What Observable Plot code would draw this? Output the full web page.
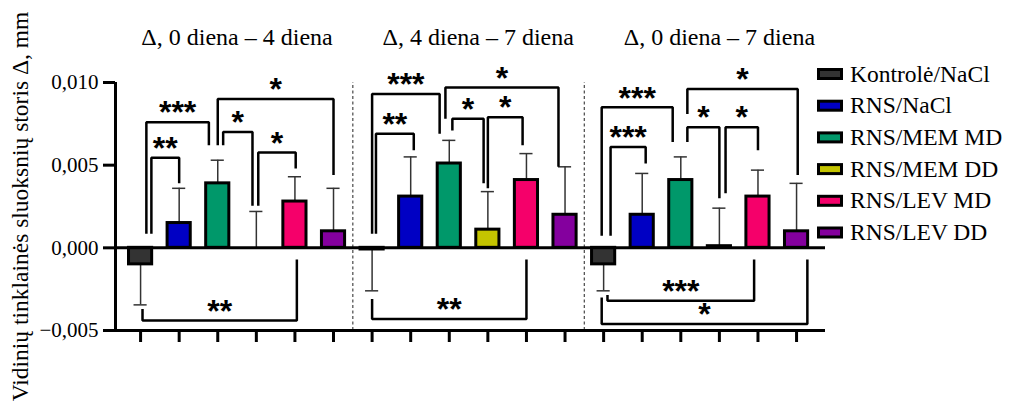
<!DOCTYPE html>
<html>
<head>
<meta charset="utf-8">
<script src="https://cdn.jsdelivr.net/npm/d3@7"></script>
<script src="https://cdn.jsdelivr.net/npm/@observablehq/plot@0.6"></script>
<style>
  body { margin: 0; background: #fff; }
  #chart { position: relative; width: 1012px; height: 406px; }
</style>
</head>
<body>
<div id="chart"></div>
<script>
// Groups, colours and observation periods
const groups = ["Kontrolė/NaCl", "RNS/NaCl", "RNS/MEM MD", "RNS/MEM DD", "RNS/LEV MD", "RNS/LEV DD"];
const groupColors = ["#333333", "#0000c4", "#00986a", "#c4c400", "#f5006a", "#84009e"];
const periods = ["Δ, 0 diena – 4 diena", "Δ, 4 diena – 7 diena", "Δ, 0 diena – 7 diena"];

// Mean change (mm) and SD per group, one pair of arrays per period
const mean04 = [-0.0010, 0.0015, 0.0039, 0.0000, 0.0028, 0.0010];
const sd04   = [ 0.00245, 0.0021, 0.0014, 0.0022, 0.0015, 0.0026];
const mean47 = [-0.0001, 0.0031, 0.0051, 0.0011, 0.0041, 0.0020];
const sd47   = [ 0.0025, 0.0024, 0.0014, 0.0023, 0.0016, 0.0029];
const mean07 = [-0.0010, 0.0020, 0.0041, 0.0001, 0.0031, 0.0010];
const sd07   = [ 0.0016, 0.0025, 0.0014, 0.0023, 0.0016, 0.0029];

const yTicks = [-0.005, 0, 0.005, 0.010];
const yLabel = "Vidinių tinklainės sluoksnių storis Δ, mm";

// Significance comparisons:
// [period, group A, group B, bracket level, leg A end, leg B end, stars, nudge A, nudge B]
const comparisons = [
  [0, 0, 1,  0.00545,  0.00085,  0.0039,  "**",   0.28,  0.00],
  [0, 0, 2,  0.0076,   0.00085,  0.0062,  "***",  0.15, -0.23],
  [0, 2, 3,  0.0070,   0.0062,   0.00255, "*",    0.14, -0.10],
  [0, 3, 4,  0.00576,  0.00255,  0.0048,  "*",    0.05,  0.02],
  [0, 2, 5,  0.0090,   0.0062,   0.0044,  "*",    0.00,  0.00],
  [0, 0, 4, -0.0044,  -0.0037,  -0.0007,  "**",   0.05,  0.05],
  [1, 0, 1,  0.0069,   0.00085,  0.0059,  "**",   0.10,  0.08],
  [1, 0, 2,  0.0093,   0.00085,  0.0069,  "***",  0.00, -0.25],
  [1, 2, 3,  0.0078,   0.0071,   0.0039,  "*",    0.08, -0.11],
  [1, 3, 4,  0.0079,   0.0036,   0.0062,  "*",    0.00, -0.10],
  [1, 2, 5,  0.0097,   0.0078,   0.0049,  "*",   -0.10, -0.17],
  [1, 0, 4, -0.0043,  -0.0031,  -0.0007,  "**",   0.00,  0.00],
  [2, 0, 1,  0.0061,   0.00073,  0.0051,  "***",  0.18,  0.09],
  [2, 0, 2,  0.0085,   0.00073,  0.0064,  "***", -0.05, -0.21],
  [2, 2, 3,  0.0073,   0.0064,   0.0030,  "*",    0.17,  0.00],
  [2, 3, 4,  0.0073,   0.0033,   0.0059,  "*",    0.16,  0.00],
  [2, 2, 5,  0.0096,   0.0081,   0.0044,  "*",    0.17,  0.03],
  [2, 0, 4, -0.0032,  -0.00285, -0.0007,  "***",  0.10, -0.10],
  [2, 0, 5, -0.0046,  -0.0030,  -0.0007,  "*",   -0.05,  0.28]
];

// Flatten into one row per bar; slot index = period * 6 + group
const perGroup = groups.length;
const periodData = [[mean04, sd04], [mean47, sd47], [mean07, sd07]];
const rows = periodData.flatMap(([means, sds], p) =>
  means.map((m, g) => ({
    i: p * perGroup + g,
    group: groups[g],
    mean: m,
    end: m + (m < 0 ? -sds[g] : sds[g])
  }))
);

// Bracket paths (leg A → level → level → leg B) and their star labels
const bracketPts = comparisons.flatMap(([p, a, b, lvl, ea, eb, , na, nb], k) => {
  const xa = p * perGroup + a + na, xb = p * perGroup + b + nb;
  return [
    {k, x: xa, y: ea}, {k, x: xa, y: lvl}, {k, x: xb, y: lvl}, {k, x: xb, y: eb}
  ];
});
const bracketLabels = comparisons.map(([p, a, b, lvl, , , stars, na, nb]) => ({
  x: (p * perGroup + a + na + p * perGroup + b + nb) / 2,
  y: lvl,
  stars
}));

const xDomain = [-0.65, 17.75];
const titleX = [2.5, 8.75, 15];
const panelBreaks = [5.5, 11.5];
const fmt = v => (v < 0 ? "−" : "") + Math.abs(v).toFixed(3).replace(".", ",");

const chart = Plot.plot({
  width: 1012,
  height: 406,
  marginLeft: 115,
  marginRight: 187,
  marginTop: 82,
  marginBottom: 76,
  x: {domain: xDomain},
  y: {domain: [-0.005, 0.010]},
  color: {domain: groups, range: groupColors},
  style: {fontFamily: "'Liberation Serif', 'Times New Roman', serif", background: "#fff", color: "#000", overflow: "visible"},
  marks: [
    Plot.ruleX(panelBreaks, {y1: -0.005, y2: 0.010, stroke: "#555", strokeWidth: 1.3, strokeDasharray: "3,2.5"}),
    // SD whiskers with caps
    Plot.ruleX(rows, {x: "i", y1: "mean", y2: "end", stroke: "#333", strokeWidth: 1.5}),
    Plot.ruleY(rows, {y: "end", x1: d => d.i - 0.17, x2: d => d.i + 0.17, stroke: "#333", strokeWidth: 1.5}),
    // Bars
    Plot.rect(rows, {x1: d => d.i - 0.3, x2: d => d.i + 0.3, y1: 0, y2: "mean", fill: "group", stroke: "#000", strokeWidth: 3}),
    // Axis lines
    Plot.ruleY([0], {stroke: "#000", strokeWidth: 3}),
    Plot.ruleY([-0.005], {stroke: "#000", strokeWidth: 3}),
    Plot.ruleX([xDomain[0]], {y1: -0.005, y2: 0.010, stroke: "#000", strokeWidth: 3}),
    Plot.axisY({ticks: yTicks, tickFormat: fmt, tickSize: 12, tickPadding: 5, fontSize: 21, strokeWidth: 3, label: null}),
    Plot.axisX({ticks: d3.range(rows.length), tickSize: 12, strokeWidth: 3, tickFormat: () => "", label: null}),
    // Significance brackets
    Plot.line(bracketPts, {x: "x", y: "y", z: "k", stroke: "#000", strokeWidth: 2.5, strokeLinejoin: "miter", strokeLinecap: "butt"}),
    Plot.text(bracketLabels, {x: "x", y: "y", text: "stars", dy: -9, fontSize: 32, fontWeight: "bold", fontFamily: "'Liberation Sans', Arial, sans-serif", fill: "#000"}),
    // Period titles and y label
    Plot.text(periods, {x: (d, k) => titleX[k], text: d => d, frameAnchor: "top", dy: -55, fontSize: 24, fill: "#000"}),
    Plot.text([yLabel], {text: d => d, frameAnchor: "left", textAnchor: "middle", rotate: -90, dx: -95.5, fontSize: 23.5, fill: "#000"})
  ]
});

document.getElementById("chart").append(chart);

// Vertical legend on the right
const legend = d3.select(chart).append("g")
  .attr("font-family", "'Liberation Serif', 'Times New Roman', serif")
  .attr("font-size", 23.5)
  .attr("text-anchor", "start");
const row = legend.selectAll("g").data(groups).join("g")
  .attr("transform", (d, k) => `translate(817, ${74 + k * 31.7})`);
row.append("rect")
  .attr("x", 1.5).attr("y", -4.5).attr("width", 23).attr("height", 9)
  .attr("fill", (d, k) => groupColors[k])
  .attr("stroke", "#000").attr("stroke-width", 3);
row.append("text")
  .attr("x", 33).attr("y", 7.5)
  .attr("text-anchor", "start")
  .attr("fill", "#000")
  .text(d => d);
</script>
</body>
</html>
